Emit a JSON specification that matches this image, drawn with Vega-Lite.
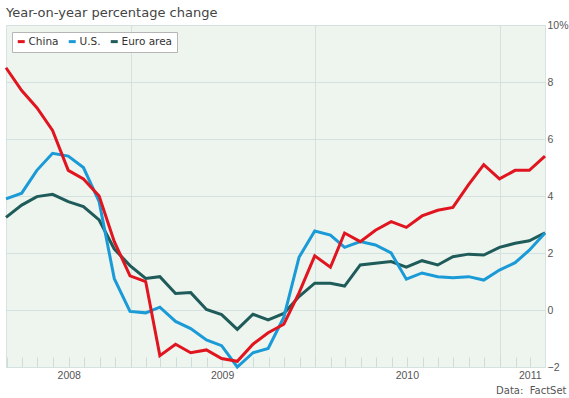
{
  "$schema": "https://vega.github.io/schema/vega-lite/v6.json",
  "width": 539,
  "height": 342,
  "autosize": {"type": "none"},
  "padding": {"left": 6, "top": 25, "right": 24, "bottom": 31},
  "background": "white",
  "title": {"text": "Year-on-year percentage change", "anchor": "start", "frame": "group", "font": "DejaVu Sans", "fontSize": 13, "fontWeight": "normal", "color": "#444444", "offset": -10, "baseline": "alphabetic"},
  "config": {"view": {"fill": "#eef5ef", "stroke": "#d6e3e3"}},
  "data": {"values": [
    {"date": "2008-04-30", "series": "Euro area", "value": 3.25},
    {"date": "2008-05-31", "series": "Euro area", "value": 3.68},
    {"date": "2008-06-30", "series": "Euro area", "value": 3.98},
    {"date": "2008-07-31", "series": "Euro area", "value": 4.06},
    {"date": "2008-08-31", "series": "Euro area", "value": 3.8},
    {"date": "2008-09-30", "series": "Euro area", "value": 3.63},
    {"date": "2008-10-31", "series": "Euro area", "value": 3.16},
    {"date": "2008-11-30", "series": "Euro area", "value": 2.14},
    {"date": "2008-12-31", "series": "Euro area", "value": 1.56},
    {"date": "2009-01-31", "series": "Euro area", "value": 1.11},
    {"date": "2009-02-28", "series": "Euro area", "value": 1.17},
    {"date": "2009-03-31", "series": "Euro area", "value": 0.58},
    {"date": "2009-04-30", "series": "Euro area", "value": 0.61},
    {"date": "2009-05-31", "series": "Euro area", "value": 0.02},
    {"date": "2009-06-30", "series": "Euro area", "value": -0.16},
    {"date": "2009-07-31", "series": "Euro area", "value": -0.68},
    {"date": "2009-08-31", "series": "Euro area", "value": -0.15},
    {"date": "2009-09-30", "series": "Euro area", "value": -0.35},
    {"date": "2009-10-31", "series": "Euro area", "value": -0.12},
    {"date": "2009-11-30", "series": "Euro area", "value": 0.47},
    {"date": "2009-12-31", "series": "Euro area", "value": 0.94},
    {"date": "2010-01-31", "series": "Euro area", "value": 0.94},
    {"date": "2010-02-28", "series": "Euro area", "value": 0.84},
    {"date": "2010-03-31", "series": "Euro area", "value": 1.58},
    {"date": "2010-04-30", "series": "Euro area", "value": 1.64},
    {"date": "2010-05-31", "series": "Euro area", "value": 1.7},
    {"date": "2010-06-30", "series": "Euro area", "value": 1.5},
    {"date": "2010-07-31", "series": "Euro area", "value": 1.73},
    {"date": "2010-08-31", "series": "Euro area", "value": 1.58},
    {"date": "2010-09-30", "series": "Euro area", "value": 1.87},
    {"date": "2010-10-31", "series": "Euro area", "value": 1.96},
    {"date": "2010-11-30", "series": "Euro area", "value": 1.93},
    {"date": "2010-12-31", "series": "Euro area", "value": 2.2},
    {"date": "2011-01-31", "series": "Euro area", "value": 2.34},
    {"date": "2011-02-28", "series": "Euro area", "value": 2.43},
    {"date": "2011-03-31", "series": "Euro area", "value": 2.71},
    {"date": "2008-04-30", "series": "U.S.", "value": 3.9},
    {"date": "2008-05-31", "series": "U.S.", "value": 4.1},
    {"date": "2008-06-30", "series": "U.S.", "value": 4.9},
    {"date": "2008-07-31", "series": "U.S.", "value": 5.5},
    {"date": "2008-08-31", "series": "U.S.", "value": 5.4},
    {"date": "2008-09-30", "series": "U.S.", "value": 5.0},
    {"date": "2008-10-31", "series": "U.S.", "value": 3.8},
    {"date": "2008-11-30", "series": "U.S.", "value": 1.1},
    {"date": "2008-12-31", "series": "U.S.", "value": -0.05},
    {"date": "2009-01-31", "series": "U.S.", "value": -0.1},
    {"date": "2009-02-28", "series": "U.S.", "value": 0.1},
    {"date": "2009-03-31", "series": "U.S.", "value": -0.4},
    {"date": "2009-04-30", "series": "U.S.", "value": -0.65},
    {"date": "2009-05-31", "series": "U.S.", "value": -1.05},
    {"date": "2009-06-30", "series": "U.S.", "value": -1.25},
    {"date": "2009-07-31", "series": "U.S.", "value": -2.0},
    {"date": "2009-08-31", "series": "U.S.", "value": -1.5},
    {"date": "2009-09-30", "series": "U.S.", "value": -1.35},
    {"date": "2009-10-31", "series": "U.S.", "value": -0.25},
    {"date": "2009-11-30", "series": "U.S.", "value": 1.85},
    {"date": "2009-12-31", "series": "U.S.", "value": 2.77},
    {"date": "2010-01-31", "series": "U.S.", "value": 2.63},
    {"date": "2010-02-28", "series": "U.S.", "value": 2.2},
    {"date": "2010-03-31", "series": "U.S.", "value": 2.4},
    {"date": "2010-04-30", "series": "U.S.", "value": 2.28},
    {"date": "2010-05-31", "series": "U.S.", "value": 2.0},
    {"date": "2010-06-30", "series": "U.S.", "value": 1.08},
    {"date": "2010-07-31", "series": "U.S.", "value": 1.3},
    {"date": "2010-08-31", "series": "U.S.", "value": 1.17},
    {"date": "2010-09-30", "series": "U.S.", "value": 1.13},
    {"date": "2010-10-31", "series": "U.S.", "value": 1.17},
    {"date": "2010-11-30", "series": "U.S.", "value": 1.05},
    {"date": "2010-12-31", "series": "U.S.", "value": 1.4},
    {"date": "2011-01-31", "series": "U.S.", "value": 1.66},
    {"date": "2011-02-28", "series": "U.S.", "value": 2.1},
    {"date": "2011-03-31", "series": "U.S.", "value": 2.7},
    {"date": "2008-04-30", "series": "China", "value": 8.5},
    {"date": "2008-05-31", "series": "China", "value": 7.7},
    {"date": "2008-06-30", "series": "China", "value": 7.1},
    {"date": "2008-07-31", "series": "China", "value": 6.3},
    {"date": "2008-08-31", "series": "China", "value": 4.9},
    {"date": "2008-09-30", "series": "China", "value": 4.6},
    {"date": "2008-10-31", "series": "China", "value": 4.0},
    {"date": "2008-11-30", "series": "China", "value": 2.4},
    {"date": "2008-12-31", "series": "China", "value": 1.2},
    {"date": "2009-01-31", "series": "China", "value": 1.0},
    {"date": "2009-02-28", "series": "China", "value": -1.6},
    {"date": "2009-03-31", "series": "China", "value": -1.2},
    {"date": "2009-04-30", "series": "China", "value": -1.5},
    {"date": "2009-05-31", "series": "China", "value": -1.4},
    {"date": "2009-06-30", "series": "China", "value": -1.7},
    {"date": "2009-07-31", "series": "China", "value": -1.8},
    {"date": "2009-08-31", "series": "China", "value": -1.2},
    {"date": "2009-09-30", "series": "China", "value": -0.8},
    {"date": "2009-10-31", "series": "China", "value": -0.5},
    {"date": "2009-11-30", "series": "China", "value": 0.6},
    {"date": "2009-12-31", "series": "China", "value": 1.9},
    {"date": "2010-01-31", "series": "China", "value": 1.5},
    {"date": "2010-02-28", "series": "China", "value": 2.7},
    {"date": "2010-03-31", "series": "China", "value": 2.4},
    {"date": "2010-04-30", "series": "China", "value": 2.8},
    {"date": "2010-05-31", "series": "China", "value": 3.1},
    {"date": "2010-06-30", "series": "China", "value": 2.9},
    {"date": "2010-07-31", "series": "China", "value": 3.3},
    {"date": "2010-08-31", "series": "China", "value": 3.5},
    {"date": "2010-09-30", "series": "China", "value": 3.6},
    {"date": "2010-10-31", "series": "China", "value": 4.4},
    {"date": "2010-11-30", "series": "China", "value": 5.1},
    {"date": "2010-12-31", "series": "China", "value": 4.6},
    {"date": "2011-01-31", "series": "China", "value": 4.9},
    {"date": "2011-02-28", "series": "China", "value": 4.9},
    {"date": "2011-03-31", "series": "China", "value": 5.4}
  ]},
  "mark": {"type": "line", "strokeWidth": 3, "strokeJoin": "miter"},
  "encoding": {
    "x": {
      "field": "date",
      "type": "temporal",
      "scale": {"type": "utc", "domain": [{"year": 2008, "month": 4, "date": 30, "utc": true}, {"year": 2011, "month": 3, "date": 31, "utc": true}]},
      "axis": {
        "tickCount": {"interval": "month", "step": 1},
        "tickSize": -10,
        "tickColor": "#cddbdb",
        "tickWidth": 1,
        "grid": true,
        "gridColor": "#d3e1e1",
        "gridOpacity": {"condition": {"test": "utcmonth(datum.value) == 0", "value": 1}, "value": 0},
        "domain": false,
        "labelOverlap": false,
        "labelFlush": false,
        "labelExpr": "(utcyear(datum.value)==2008 && utcmonth(datum.value)==8) || (utcyear(datum.value)==2009 && utcmonth(datum.value)==6) || (utcyear(datum.value)==2010 && utcmonth(datum.value)==6) || (utcyear(datum.value)==2011 && utcmonth(datum.value)==2) ? utcFormat(datum.value, '%Y') : ''",
        "labelFont": "Liberation Sans",
        "labelFontSize": 10.5,
        "labelColor": "#555555",
        "labelPadding": 13,
        "title": "Data:\u00a0\u00a0FactSet",
        "titleFont": "DejaVu Sans",
        "titleFontSize": 10,
        "titleFontWeight": "normal",
        "titleColor": "#555555",
        "titleAlign": "right",
        "titleAnchor": "end",
        "titleBaseline": "alphabetic",
        "titleX": 560,
        "titleY": 26
      }
    },
    "y": {
      "field": "value",
      "type": "quantitative",
      "scale": {"domain": [-2, 10], "nice": false, "zero": false},
      "axis": {
        "orient": "right",
        "values": [-2, 0, 2, 4, 6, 8, 10],
        "grid": true,
        "gridColor": "#d3e1e1",
        "domain": false,
        "ticks": false,
        "labelAlign": "left",
        "labelPadding": 2,
        "labelFont": "Liberation Sans",
        "labelFontSize": 10.5,
        "labelColor": "#555555",
        "labelExpr": "datum.value == 10 ? '10%' : (datum.value < 0 ? datum.label : '\u2007' + datum.label)",
        "title": null
      }
    },
    "color": {
      "field": "series",
      "type": "nominal",
      "scale": {"domain": ["China", "U.S.", "Euro area"], "range": ["#e0151f", "#1a9ad6", "#1e5b59"]},
      "legend": {
        "orient": "none",
        "legendX": 6,
        "legendY": 7,
        "direction": "horizontal",
        "title": null,
        "fillColor": "#ffffff",
        "strokeColor": "#b5b5b5",
        "padding": 4,
        "symbolType": "stroke",
        "symbolStrokeWidth": 3,
        "symbolSize": 49,
        "labelFont": "DejaVu Sans",
        "labelFontSize": 10.5,
        "labelColor": "#333333",
        "labelOffset": 2,
        "columnPadding": 3
      }
    }
  }
}
